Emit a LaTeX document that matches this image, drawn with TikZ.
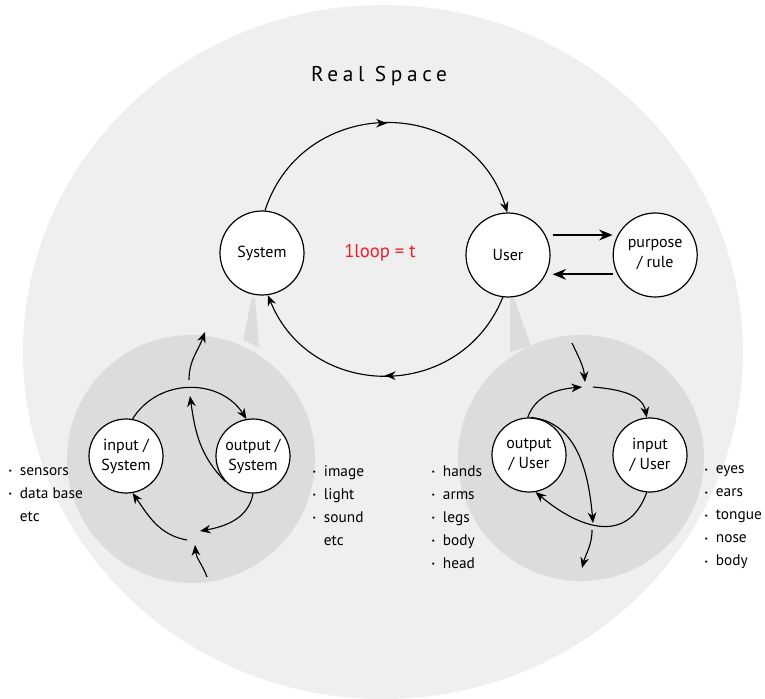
\documentclass[tikz,border=0pt]{standalone}
\usepackage{fontspec}
\setmainfont{PT Sans}
\usepackage{tikz}
\usetikzlibrary{positioning}
\usetikzlibrary{arrows.meta,decorations.markings}
\definecolor{rs-space}{HTML}{EFEFEF}
\definecolor{rs-bubble}{HTML}{DCDCDC}
\definecolor{rs-red}{HTML}{EE1C24}
\newcommand{\itm}{\makebox[11pt][l]{\hspace{2.5pt}\raisebox{0.12em}{\scalebox{0.5}{\textbullet}}}}

\begin{document}
\begin{tikzpicture}[
    x=0.75pt, y=0.75pt,
    font=\fontsize{12}{15}\selectfont,
    >={Stealth[length=8pt,width=6.5pt]}
  ]

  \tikzset{
    hub/.style={circle, draw, line width=0.9pt, fill=white, minimum size=63pt, inner sep=0pt, align=center},
    unit/.style={circle, draw, line width=0.9pt, fill=white, minimum size=55.5pt, inner sep=0pt, align=center},
    flow/.style={->, line width=0.85pt},
    heavy/.style={-{Stealth[length=10pt,width=8pt]}, line width=1.6pt},
    midarrow/.style={postaction={decorate}, decoration={markings, mark=at position 0.5 with {\arrow{>}}}},
    lst/.style={anchor=west, align=left, inner sep=0pt, font=\fontsize{11.5}{17.25}\selectfont}
  }

  % real space and the two bubbles
  \useasboundingbox (0,0) rectangle (765,-699);
  \fill[rs-space] (383,-352) ellipse [x radius=360, y radius=347];
  \fill[rs-bubble] (191,-459) circle [radius=124];
  \fill[rs-bubble] (581,-458) circle [radius=123];
  \fill[rs-bubble] (251.7,-298) -- (255,-298) -- (259.3,-348) -- (243.3,-340) -- cycle;
  \fill[rs-bubble] (510,-298) -- (514,-298) -- (531,-346) -- (510,-352) -- cycle;

  % Nodes
  \node (title) [font=\fontsize{16}{19}\selectfont\addfontfeature{LetterSpace=22}] at (379,-76) {Real Space};
  \node (sys)  [hub] at (262,-253) {System};
  \node (usr)  [hub] at (508,-255) {User};
  \node (pur)  [hub, right=46.5pt of usr] {purpose\\/ rule};
  \node (loop) [text=rs-red, font=\fontsize{14}{17}\selectfont] at (380,-253) {1loop = t};

  \node (isys) [unit] at (126,-456) {input /\\System};
  \node (osys) [unit] at (253,-456) {output /\\System};
  \node (ousr) [unit] at (529,-455) {output\\/ User};
  \node (iusr) [unit] at (650,-455) {input\\/ User};

  \node (lsrc)   [lst] at (5,-494.5)   {\itm sensors\\\itm data base\\\hspace*{11pt}etc};
  \node (lmedia) [lst] at (309,-506)   {\itm image\\\itm light\\\itm sound\\\hspace*{11pt}etc};
  \node (lbody)  [lst] at (428,-517.5) {\itm hands\\\itm arms\\\itm legs\\\itm body\\\itm head};
  \node (lsense) [lst] at (701,-517.5) {\itm eyes\\\itm ears\\\itm tongue\\\itm nose\\\itm body};

  % free ends inside the bubbles
  \coordinate (lup)     at (189,-380);
  \coordinate (lupend)  at (205,-332);
  \coordinate (ltip)    at (190,-396);
  \coordinate (lbr)     at (200,-531);
  \coordinate (lbl)     at (187,-540);
  \coordinate (lin)     at (207,-577);
  \coordinate (linend)  at (195,-545);
  \coordinate (rin)     at (572,-343);
  \coordinate (rinend)  at (585,-382);
  \coordinate (rtl)     at (582,-387);
  \coordinate (rtr)     at (593,-387);
  \coordinate (rdi)     at (593,-523);
  \coordinate (rout)    at (592,-530);
  \coordinate (routend) at (582,-568);

  % main loop
  \draw[flow, midarrow] (sys.86) to[out=72, in=107, looseness=1.3] (usr.91);
  \draw[flow, midarrow] (usr.-97) to[out=-112, in=-68, looseness=1.24] (sys.-82);
  \draw[heavy] ([xshift=1.5pt, yshift=15pt]usr.east) -- ([yshift=15pt]pur.west);
  \draw[heavy] ([yshift=-14.5pt]pur.west) -- ([xshift=1.5pt, yshift=-14.5pt]usr.east);

  % system bubble
  \draw[flow] (isys.80) to[out=58, in=123, looseness=1.1] (osys.100);
  \draw[flow] (lup) to[out=90, in=-110] (lupend);
  \draw[flow] (osys.223) to[out=135, in=-82] (ltip);
  \draw[flow] (osys.-90) to[out=-100, in=10] (lbr);
  \draw[flow] (lbl) to[out=170, in=-55] (isys.-80);
  \draw[flow] (lin) to[out=110, in=-85] (linend);

  % user bubble
  \draw[flow] (ousr.92) to[out=70, in=185] (rtl);
  \draw[flow] (rtr) to[out=-5, in=100] (iusr.95);
  \draw[flow] (rin) to[out=-65, in=95] (rinend);
  \draw[flow] (iusr.-95) to[out=-110, in=-40, looseness=1.3] (ousr.-80);
  \draw[flow] (ousr.88) to[out=-5, in=95] (rdi);
  \draw[flow] (rout) to[out=-90, in=75] (routend);

\end{tikzpicture}
\end{document}
